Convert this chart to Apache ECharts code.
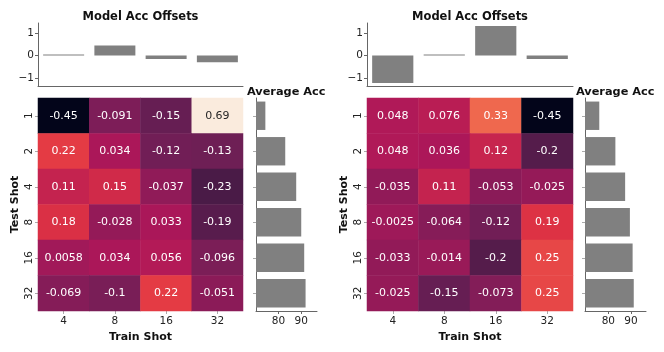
<!DOCTYPE html>
<html>
<head>
<meta charset="utf-8">
<script src="https://cdn.jsdelivr.net/npm/echarts@6/dist/echarts.min.js"></script>
<style>
  html, body { margin: 0; padding: 0; background: #fff; }
  #chart { width: 664px; height: 352px; }
</style>
</head>
<body>
<div id="chart"></div>
<script>
// ---- data ----
var trainShots = ['4', '8', '16', '32'];
var testShots = ['1', '2', '4', '8', '16', '32'];

// rows = test shot, cols = train shot
var leftCells = [
  [-0.45, -0.091, -0.15, 0.69],
  [0.22, 0.034, -0.12, -0.13],
  [0.11, 0.15, -0.037, -0.23],
  [0.18, -0.028, 0.033, -0.19],
  [0.0058, 0.034, 0.056, -0.096],
  [-0.069, -0.1, 0.22, -0.051]
];
var rightCells = [
  [0.048, 0.076, 0.33, -0.45],
  [0.048, 0.036, 0.12, -0.2],
  [-0.035, 0.11, -0.053, -0.025],
  [-0.0025, -0.064, -0.12, 0.19],
  [-0.033, -0.014, -0.2, 0.25],
  [-0.025, -0.15, -0.073, 0.25]
];

var leftOffsets = [0.01, 0.44, -0.15, -0.3];
var rightOffsets = [-1.21, 0.05, 1.3, -0.15];

var leftAvg = [74.3, 83.0, 87.8, 90.0, 91.3, 91.9];
var rightAvg = [76.0, 83.1, 87.4, 89.5, 90.7, 91.2];

var offsetTicks = [-1, 0, 1];
var accTicks = [80, 90];

// seaborn "rocket"
var rocket = [[0, '#03051A'], [0.143, '#35193E'], [0.286, '#701F57'], [0.429, '#AD1759'],
  [0.571, '#E13342'], [0.714, '#F37651'], [0.857, '#F6B48F'], [1, '#FAEBDD']];

function hexRgb(h) { return [parseInt(h.substr(1, 2), 16), parseInt(h.substr(3, 2), 16), parseInt(h.substr(5, 2), 16)]; }
function rocketAt(t) {
  for (var i = 1; i < rocket.length; i++) {
    if (t <= rocket[i][0]) {
      var a = rocket[i - 1], b = rocket[i];
      var f = (t - a[0]) / (b[0] - a[0]);
      var ca = hexRgb(a[1]), cb = hexRgb(b[1]);
      return 'rgb(' + ca.map(function(c, k) { return Math.round(c + (cb[k] - c) * f); }).join(',') + ')';
    }
  }
  return rocket[rocket.length - 1][1];
}
var rocketColors = [];
for (var i = 0; i <= 40; i++) rocketColors.push(rocketAt(i / 40));

var FONT = 'DejaVu Sans';
var SPINE = '#666';
var BAR = '#808080';

var panels = [
  { x: 38, w: 205, avgX: 256, cells: leftCells, offsets: leftOffsets, avg: leftAvg, accMin: 70.2, accMax: 96.9 },
  { x: 367, w: 206, avgX: 585, cells: rightCells, offsets: rightOffsets, avg: rightAvg, accMin: 69.7, accMax: 96.6 }
];

var grid = [], xAxis = [], yAxis = [], series = [], graphic = [], heatIdx = [];

panels.forEach(function(p, pi) {
  var g0 = grid.length;
  grid.push({ left: p.x, top: 23, width: p.w, height: 63 });          // offsets
  grid.push({ left: p.x, top: 98, width: p.w, height: 213 });         // heatmap
  grid.push({ left: p.avgX, top: 98, width: 61, height: 213 });       // average acc

  // offsets axes
  xAxis.push({
    gridIndex: g0, type: 'category', data: trainShots,
    axisLine: { onZero: false, lineStyle: { color: SPINE, width: 1 } },
    axisTick: { alignWithLabel: true, length: 3, lineStyle: { color: SPINE } },
    axisLabel: { show: false }
  });
  yAxis.push({
    gridIndex: g0, type: 'value', min: -1.34, max: 1.43,
    axisLine: { show: true, lineStyle: { color: SPINE, width: 1 } },
    axisTick: { show: true, length: 3, customValues: offsetTicks, lineStyle: { color: SPINE } },
    axisLabel: {
      customValues: offsetTicks, margin: 4, color: '#222', fontFamily: FONT, fontSize: 10.5,
      formatter: function(v) { return v < 0 ? '\u2212' + Math.abs(v) : String(v); }
    },
    splitLine: { show: false }
  });

  // heatmap axes
  xAxis.push({
    gridIndex: g0 + 1, type: 'category', data: trainShots, position: 'bottom',
    axisLine: { show: false },
    axisTick: { show: true, alignWithLabel: true, length: 3, lineStyle: { color: '#aaa' } },
    axisLabel: { margin: 5, color: '#222', fontFamily: FONT, fontSize: 10.5 },
    name: 'Train Shot', nameLocation: 'middle', nameGap: 15,
    nameTextStyle: { fontFamily: FONT, fontWeight: 'bold', fontSize: 11, color: '#111' },
    splitArea: { show: false }
  });
  yAxis.push({
    gridIndex: g0 + 1, type: 'category', data: testShots, inverse: true,
    axisLine: { show: false },
    axisTick: { show: true, alignWithLabel: true, length: 3, lineStyle: { color: '#aaa' } },
    axisLabel: { rotate: 90, margin: 3, color: '#222', fontFamily: FONT, fontSize: 10.5 },
    name: 'Test Shot', nameLocation: 'middle', nameGap: 17, nameRotate: 90,
    nameTextStyle: { fontFamily: FONT, fontWeight: 'bold', fontSize: 11, color: '#111' },
    splitArea: { show: false }
  });

  // average acc axes
  xAxis.push({
    gridIndex: g0 + 2, type: 'value', min: p.accMin, max: p.accMax,
    axisLine: { show: true, lineStyle: { color: SPINE, width: 1 } },
    axisTick: { show: true, length: 3, customValues: accTicks, lineStyle: { color: SPINE } },
    axisLabel: { customValues: accTicks, margin: 5, color: '#222', fontFamily: FONT, fontSize: 10.5 },
    splitLine: { show: false }
  });
  yAxis.push({
    gridIndex: g0 + 2, type: 'category', data: testShots, inverse: true,
    axisLine: { show: true, lineStyle: { color: SPINE, width: 1 } },
    axisTick: { show: true, alignWithLabel: true, length: 3, lineStyle: { color: '#aaa' } },
    axisLabel: { show: false }
  });

  series.push({
    type: 'bar', xAxisIndex: g0, yAxisIndex: g0, data: p.offsets,
    barWidth: '80%', barMinHeight: 1, itemStyle: { color: BAR }, silent: true
  });

  var heat = [];
  p.cells.forEach(function(row, r) {
    row.forEach(function(v, c) {
      heat.push({ value: [c, r, v], label: { color: v > 0.5 ? '#262626' : '#fff' } });
    });
  });
  heatIdx.push(series.length);
  series.push({
    type: 'heatmap', xAxisIndex: g0 + 1, yAxisIndex: g0 + 1, data: heat,
    label: {
      show: true, fontFamily: FONT, fontSize: 11,
      formatter: function(prm) { return String(prm.value[2]); }
    },
    itemStyle: { borderWidth: 0 }, silent: true
  });

  series.push({
    type: 'bar', xAxisIndex: g0 + 2, yAxisIndex: g0 + 2, data: p.avg,
    barWidth: '80%', itemStyle: { color: BAR }, silent: true
  });

  graphic.push({
    type: 'text', x: p.x + p.w / 2, y: 17,
    style: { text: 'Model Acc Offsets', font: 'bold 11.5px "DejaVu Sans"', fill: '#111', align: 'center', verticalAlign: 'middle' }
  });
  graphic.push({
    type: 'text', x: p.avgX - 9, y: 92,
    style: { text: 'Average Acc', font: 'bold 11.3px "DejaVu Sans"', fill: '#111', align: 'left', verticalAlign: 'middle' }
  });
});

var chart = echarts.init(document.getElementById('chart'));
chart.setOption({
  animation: false,
  backgroundColor: '#fff',
  grid: grid,
  xAxis: xAxis,
  yAxis: yAxis,
  visualMap: {
    show: false, type: 'continuous', min: -0.45, max: 0.69, dimension: 2,
    seriesIndex: heatIdx, inRange: { color: rocketColors }
  },
  series: series,
  graphic: graphic
});
</script>
</body>
</html>
